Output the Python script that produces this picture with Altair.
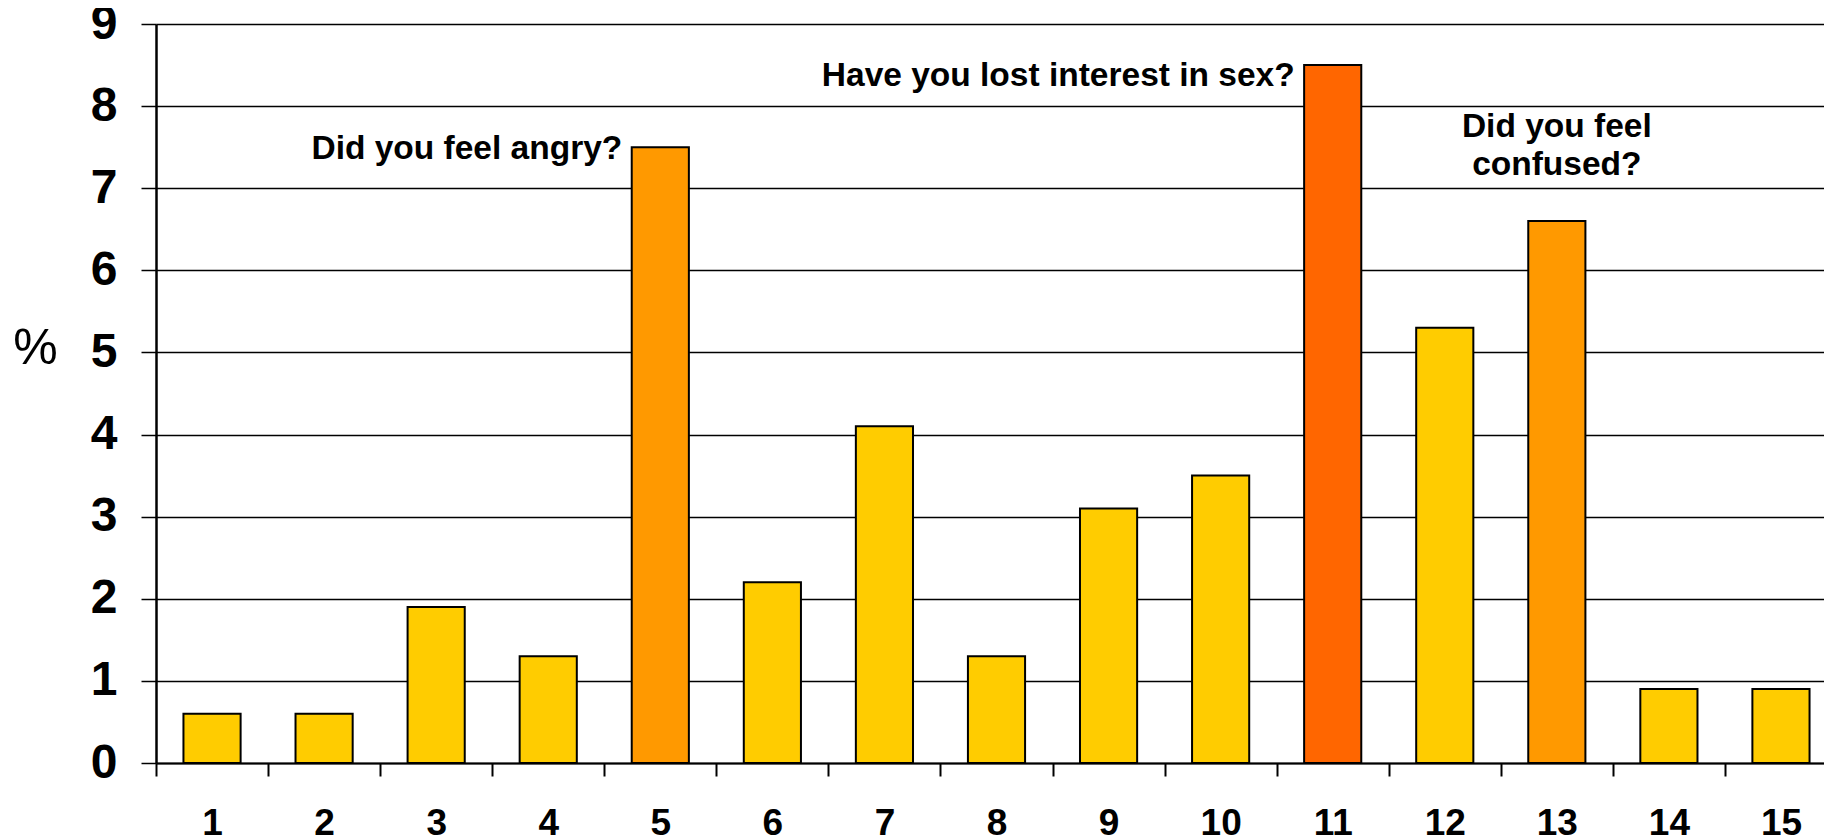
import altair as alt
import pandas as pd

# ---- data ----
items = [str(i) for i in range(1, 16)]
percent = [0.6, 0.6, 1.9, 1.3, 7.5, 2.2, 4.1, 1.3, 3.1, 3.5, 8.5, 5.3, 6.6, 0.9, 0.9]
level = ["low", "low", "low", "low", "mid", "low", "low", "low", "low", "low",
         "high", "low", "mid", "low", "low"]

note_text = ["Did you feel angry?", "Have you lost interest in sex?", "Did you feel", "confused?"]
note_item = ["5", "11", "13", "13"]
note_y = [7.36, 8.24, 7.62, 7.16]
note_kind = ["left", "left", "center", "center"]

df = pd.DataFrame({"item": items, "pct": percent, "level": level})
notes = pd.DataFrame({"text": note_text, "item": note_item, "y": note_y, "kind": note_kind})

FONT = "Liberation Sans"

x_scale = alt.Scale(domain=items, paddingInner=0, paddingOuter=0, range=[0, 1681])

x_enc = alt.X(
    "item:N",
    sort=items,
    scale=x_scale,
    axis=alt.Axis(
        title=None,
        labelAngle=0,
        labelFont=FONT,
        labelFontSize=37,
        labelFontWeight="bold",
        labelColor="black",
        labelBaseline="alphabetic",
        labelPadding=58,
        tickBand="extent",
        tickSize=13,
        tickColor="black",
        tickWidth=2,
        domainColor="black",
        domainWidth=2,
        grid=False,
    ),
)

y_scale = alt.Scale(domain=[0, 9], nice=False)

bars = alt.Chart(df).mark_bar(
    width=alt.RelativeBandSize(0.51), stroke="black", strokeWidth=2
).encode(
    x=x_enc,
    y=alt.Y(
        "pct:Q",
        scale=y_scale,
        axis=alt.Axis(
            title="%",
            titleAngle=0,
            titleFont=FONT,
            titleFontSize=50,
            titleFontWeight="normal",
            titleColor="black",
            titleX=-121,
            titleY=324,
            titleAlign="center",
            titleBaseline="middle",
            values=list(range(0, 10)),
            format="d",
            labelFont=FONT,
            labelFontSize=48,
            labelFontWeight="bold",
            labelColor="black",
            labelPadding=24,
            tickSize=15,
            tickColor="black",
            tickWidth=1.5,
            grid=True,
            gridColor="black",
            gridWidth=1.5,
            gridOpacity=1,
            domainColor="black",
            domainWidth=2.5,
        ),
    ),
    color=alt.Color(
        "level:N",
        scale=alt.Scale(domain=["low", "mid", "high"], range=["#FFCC00", "#FF9900", "#FF6600"]),
        legend=None,
    ),
)

left_notes = alt.Chart(notes).transform_filter(alt.datum.kind == "left").mark_text(
    align="right", baseline="alphabetic", dx=-38, font=FONT, fontSize=33.5, fontWeight="bold", color="black"
).encode(x=alt.X("item:N", sort=items, scale=x_scale), y=alt.Y("y:Q", scale=y_scale), text="text:N")

center_notes = alt.Chart(notes).transform_filter(alt.datum.kind == "center").mark_text(
    align="center", baseline="alphabetic", font=FONT, fontSize=33.5, fontWeight="bold", color="black"
).encode(x=alt.X("item:N", sort=items, scale=x_scale), y=alt.Y("y:Q", scale=y_scale), text="text:N")

chart = alt.layer(bars, left_notes, center_notes).properties(
    width=1668,
    height=739,
    padding={"left": 148, "top": 16, "right": 0, "bottom": 76},
    autosize=alt.AutoSizeParams(type="none"),
).configure_view(stroke=None).configure(background="white")

chart.save("out.html", embed_options={"renderer": "svg", "actions": False})
